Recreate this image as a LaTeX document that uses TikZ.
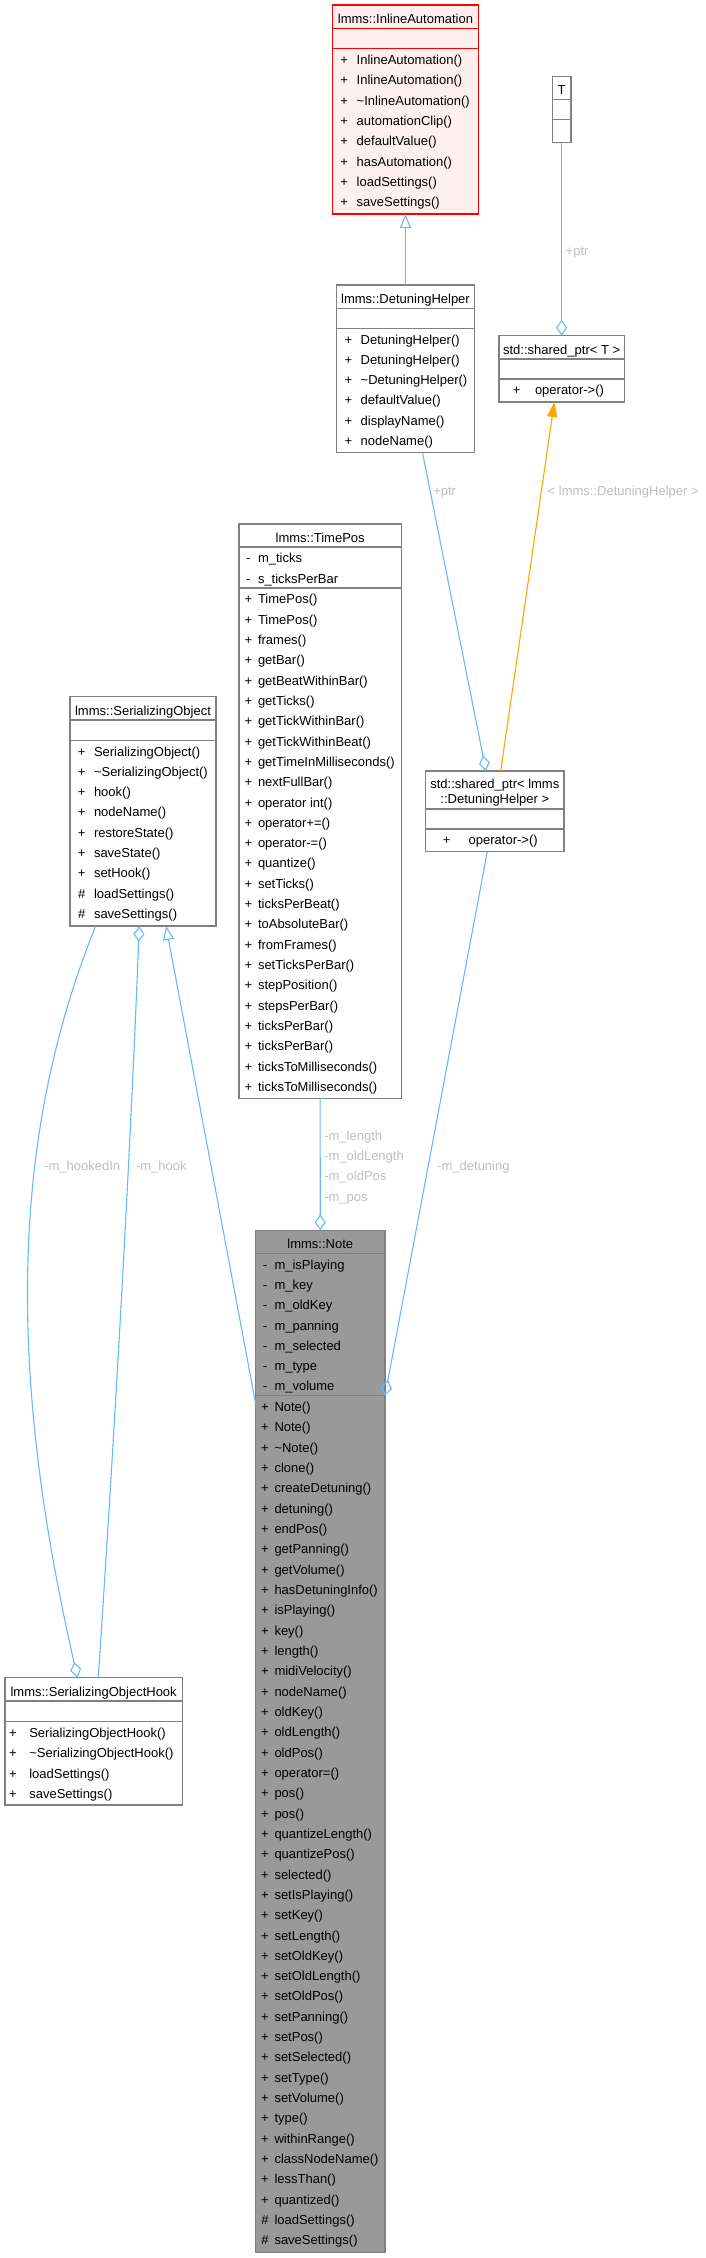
\documentclass[tikz,border=0pt]{standalone}
\usepackage{fontspec}
\setmainfont{Liberation Sans}
\usetikzlibrary{arrows.meta,calc}
\definecolor{edgeblue}{HTML}{63B8FF}
\definecolor{boxborder}{HTML}{808080}
\definecolor{notefill}{HTML}{999999}
\definecolor{iafill}{HTML}{FFF0F0}
\definecolor{labelgrey}{HTML}{BEBEBE}
\definecolor{edgeorange}{HTML}{FFA500}
\tikzset{
 umlbox/.style={draw=boxborder, line width=1.2pt, inner sep=0pt, outer sep=0pt, anchor=north west, fill=white},
 rowtext/.style={inner sep=0pt, outer sep=0pt, anchor=base, font=\fontsize{13}{15}\selectfont},
 rowname/.style={rowtext, anchor=base west},
 titletext/.style={rowtext},
 edgelabel/.style={rowtext, anchor=base west, text=labelgrey},
 sepline/.style={draw=boxborder, line width=1.2pt},
 aggr/.style={draw=edgeblue, line width=1.1pt, -{Diamond[open, length=16pt, width=11pt]}},
 inherit/.style={draw=edgeblue, line width=1.1pt, -{Triangle[open, length=14pt, width=11pt]}},
 templ/.style={draw=edgeorange, line width=1.1pt, -{Triangle[length=15pt, width=10pt]}},
}
% #1 prefix, #2 symbol centre x, #3 name x, #4 first baseline, #5 list sym/name
\newcommand\umlrows[5]{%
  \foreach \rsym/\rtxt [count=\rowi] in {#5} {
    \node[rowtext] (#1s\rowi) at (#2, {#4+(\rowi-1)*20.33}) {\rsym};
    \node[rowname] (#1t\rowi) at (#3, {#4+(\rowi-1)*20.33}) {\rtxt};
  }}
\newcommand\sepl[4]{\draw[sepline, draw=#4] (#1,#3) -- (#2,#3);}
\begin{document}
\begin{tikzpicture}[x=1pt,y=-1pt]
\useasboundingbox (0,0) rectangle (706,2258);

% ---------- lmms::InlineAutomation
\node[umlbox, draw=red, fill=iafill, minimum width=145.6pt, minimum height=209pt] (ia) at (332.7,5) {};
\sepl{332.7}{478.3}{28.3}{red}
\sepl{332.7}{478.3}{48.7}{red}
\node[titletext] (ia-title) at (405.5,23.3) {lmms::InlineAutomation};
\umlrows{ia-m}{344.2}{356.7}{64.4}{+/InlineAutomation(), +/InlineAutomation(), +/\textasciitilde{}InlineAutomation(), +/automationClip(), +/defaultValue(), +/hasAutomation(), +/loadSettings(), +/saveSettings()}

% ---------- T
\node[umlbox, minimum width=18.7pt, minimum height=66pt] (tbox) at (552.3,76.7) {};
\sepl{552.3}{571}{99.3}{boxborder}
\sepl{552.3}{571}{119.3}{boxborder}
\node[titletext] (tbox-title) at (561.65,95) {T};

% ---------- lmms::DetuningHelper
\node[umlbox, minimum width=137.6pt, minimum height=167.7pt] (dh) at (336.7,285) {};
\sepl{336.7}{474.3}{308.3}{boxborder}
\sepl{336.7}{474.3}{328.3}{boxborder}
\node[titletext] (dh-title) at (405.5,303.3) {lmms::DetuningHelper};
\umlrows{dh-m}{348.3}{360.7}{344}{+/DetuningHelper(), +/DetuningHelper(), +/\textasciitilde{}DetuningHelper(), +/defaultValue(), +/displayName(), +/nodeName()}

% ---------- std::shared_ptr< T >
\node[umlbox, minimum width=125.3pt, minimum height=66.3pt] (spt) at (499,335.7) {};
\sepl{499}{624.3}{359}{boxborder}
\sepl{499}{624.3}{379}{boxborder}
\node[titletext] (spt-title) at (561.65,354.3) {std::shared\_ptr< T >};
\umlrows{spt-m}{516.7}{535}{394.7}{+/operator->()}

% ---------- lmms::TimePos
\node[umlbox, minimum width=162.3pt, minimum height=574.3pt] (tp) at (239,524) {};
\sepl{239}{401.3}{547}{boxborder}
\sepl{239}{401.3}{588}{boxborder}
\node[titletext] (tp-title) at (320.15,542.3) {lmms::TimePos};
\umlrows{tp-a}{248.3}{258}{562.7}{-/m\_ticks, -/s\_ticksPerBar}
\umlrows{tp-m}{248.3}{258}{603.7}{+/TimePos(), +/TimePos(), +/frames(), +/getBar(), +/getBeatWithinBar(), +/getTicks(), +/getTickWithinBar(), +/getTickWithinBeat(), +/getTimeInMilliseconds(), +/nextFullBar(), +/operator int(), +/operator+=(), +/operator-=(), +/quantize(), +/setTicks(), +/ticksPerBeat(), +/toAbsoluteBar(), +/fromFrames(), +/setTicksPerBar(), +/stepPosition(), +/stepsPerBar(), +/ticksPerBar(), +/ticksPerBar(), +/ticksToMilliseconds(), +/ticksToMilliseconds()}

% ---------- std::shared_ptr< lmms::DetuningHelper >
\node[umlbox, minimum width=138.3pt, minimum height=80.7pt] (spd) at (425.7,771) {};
\sepl{425.7}{564}{809}{boxborder}
\sepl{425.7}{564}{829}{boxborder}
\node[titletext] (spd-title1) at (494.85,788.6) {std::shared\_ptr< lmms};
\node[titletext] (spd-title2) at (494.85,803.6) {::DetuningHelper >};
\umlrows{spd-m}{446.7}{468.7}{844.7}{+/operator->()}

% ---------- lmms::SerializingObject
\node[umlbox, minimum width=146pt, minimum height=229.3pt] (so) at (70,696.7) {};
\sepl{70}{216}{720}{boxborder}
\sepl{70}{216}{740.3}{boxborder}
\node[titletext] (so-title) at (143,715) {lmms::SerializingObject};
\umlrows{so-m}{81.7}{94}{756}{+/SerializingObject(), +/\textasciitilde{}SerializingObject(), +/hook(), +/nodeName(), +/restoreState(), +/saveState(), +/setHook(), \#/loadSettings(), \#/saveSettings()}

% ---------- lmms::Note
\node[umlbox, fill=notefill, minimum width=129.5pt, minimum height=1022.4pt] (note) at (255.5,1230.3) {};
\sepl{255.5}{385}{1253.3}{boxborder}
\sepl{255.5}{385}{1395.7}{boxborder}
\node[titletext] (note-title) at (320.25,1248.6) {lmms::Note};
\umlrows{note-a}{265}{274.5}{1269}{-/m\_isPlaying, -/m\_key, -/m\_oldKey, -/m\_panning, -/m\_selected, -/m\_type, -/m\_volume}
\umlrows{note-m}{265}{274.5}{1411.4}{+/Note(), +/Note(), +/\textasciitilde{}Note(), +/clone(), +/createDetuning(), +/detuning(), +/endPos(), +/getPanning(), +/getVolume(), +/hasDetuningInfo(), +/isPlaying(), +/key(), +/length(), +/midiVelocity(), +/nodeName(), +/oldKey(), +/oldLength(), +/oldPos(), +/operator=(), +/pos(), +/pos(), +/quantizeLength(), +/quantizePos(), +/selected(), +/setIsPlaying(), +/setKey(), +/setLength(), +/setOldKey(), +/setOldLength(), +/setOldPos(), +/setPanning(), +/setPos(), +/setSelected(), +/setType(), +/setVolume(), +/type(), +/withinRange(), +/classNodeName(), +/lessThan(), +/quantized(), \#/loadSettings(), \#/saveSettings()}

% ---------- lmms::SerializingObjectHook
\node[umlbox, minimum width=177.3pt, minimum height=127.3pt] (soh) at (5,1677.7) {};
\sepl{5}{182.3}{1701}{boxborder}
\sepl{5}{182.3}{1721.7}{boxborder}
\node[titletext] (soh-title) at (93.65,1696) {lmms::SerializingObjectHook};
\umlrows{soh-m}{13}{29.3}{1737.4}{+/SerializingObjectHook(), +/\textasciitilde{}SerializingObjectHook(), +/loadSettings(), +/saveSettings()}

% ---------- connectors
\draw[inherit] (dh.north) -- (ia.south);
\draw[aggr] (tbox.south) -- (spt.north);
\draw[aggr] ($(dh.south west)+(85.8,0)$) -- ($(spd.north west)+(60.3,0)$);
\draw[templ] ($(spd.north west)+(75,0)$) -- ($(spt.south west)+(55.3,0)$);
\draw[aggr] ($(spd.south west)+(61.6,0)$) -- ($(note.north east)+(0,165.4)$);
\draw[aggr] (tp.south) -- (note.north);
\draw[inherit] ($(note.north west)+(0,172.4)$) -- ($(so.south west)+(96,0)$);
\draw[aggr] ($(soh.north west)+(93.3,0)$) .. controls (114.8,1427.7) and (129.3,1176) .. ($(so.south west)+(69.3,0)$);
\draw[aggr] ($(so.south west)+(25.7,0)$) .. controls (5,1150) and (12,1390) .. ($(soh.north west)+(72.5,0)$);

% ---------- connector labels
\node[edgelabel] (l-tptr) at (565.7,255) {+ptr};
\node[edgelabel] (l-dhptr) at (433.3,495) {+ptr};
\node[edgelabel] (l-tmpl) at (547.7,495) {< lmms::DetuningHelper >};
\node[edgelabel] (l-det) at (437.3,1170.5) {-m\_detuning};
\node[edgelabel] (l-len) at (324.3,1140) {-m\_length};
\node[edgelabel] (l-oldlen) at (324.3,1160.3) {-m\_oldLength};
\node[edgelabel] (l-oldpos) at (324.3,1180.7) {-m\_oldPos};
\node[edgelabel] (l-pos) at (324.3,1201) {-m\_pos};
\node[edgelabel] (l-hookedin) at (44.3,1170) {-m\_hookedIn};
\node[edgelabel] (l-hook) at (136,1170) {-m\_hook};
\end{tikzpicture}
\end{document}
